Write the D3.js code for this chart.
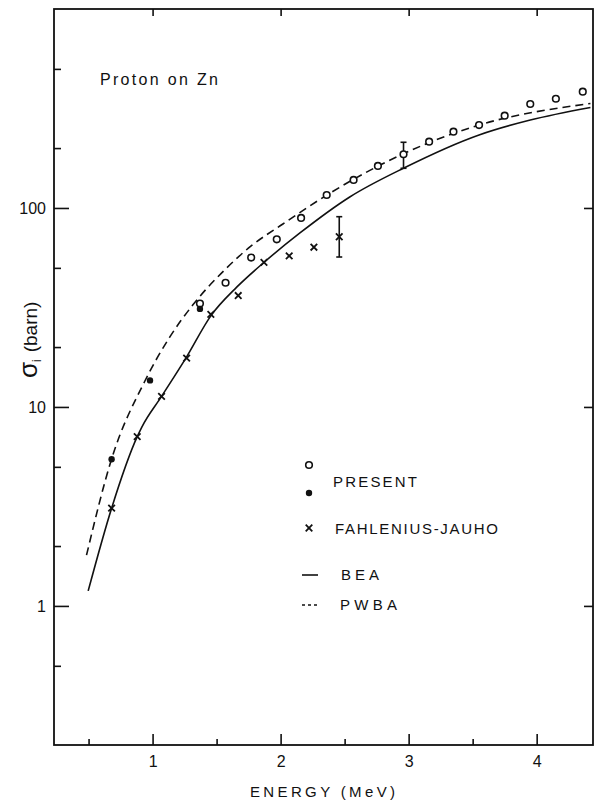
<!DOCTYPE html>
<html>
<head>
<meta charset="utf-8">
<script src="https://cdn.jsdelivr.net/npm/d3@7"></script>
<style>
  body { margin: 0; background: #fff; }
  text { font-family: "Liberation Sans", Arial, sans-serif; fill: #111; }
</style>
</head>
<body>
<div id="viz"></div>
<script>
const w = 595;
const h = 800;

// curves
const beaE = [0.497, 0.68, 0.88, 0.915, 1.07, 1.26, 1.455, 1.659, 1.869, 2.151, 2.54, 2.963, 3.55, 3.95, 4.42];
const beaSigma = [1.19, 3.10, 7.09, 7.9, 11.3, 17.6, 28.7, 40.1, 53.2, 74.9, 113.6, 158.8, 232.8, 276.7, 320];
const pwbaE = [0.484, 0.68, 0.94, 1.135, 1.315, 1.578, 1.76, 2.018, 2.362, 2.955, 3.55, 4.42];
const pwbaSigma = [1.80, 5.48, 13.5, 22.5, 32.6, 49.9, 63.7, 83.1, 116.2, 186.8, 261, 335];

// measured points
const presentE = [1.37, 1.57, 1.77, 1.97, 2.16, 2.36, 2.57, 2.76, 2.96, 3.16, 3.35, 3.55, 3.75, 3.95, 4.15, 4.36];
const presentSigma = [33.1, 42.1, 56.3, 69.6, 89.1, 116.2, 138.3, 162.6, 186.2, 215.4, 241.7, 261, 291, 333, 354, 384];
const filledE = [0.68, 0.98, 1.37];
const filledSigma = [5.46, 13.6, 31.1];
const fjE = [0.68, 0.88, 1.07, 1.266, 1.455, 1.669, 1.87, 2.067, 2.26, 2.458];
const fjSigma = [3.10, 7.09, 11.3, 17.6, 29.2, 36.3, 53.3, 57.4, 63.5, 71.7];

// error bars
const errE = [2.96, 2.458];
const errLo = [158.3, 56.7];
const errHi = [213.9, 90.4];

// ticks
const xMajor = [1, 2, 3, 4];
const xMinor = [0.5, 1.5, 2.5, 3.5];
const yMajor = [1, 10, 100];
const yMinor = [0.5, 2, 5, 20, 50, 200, 500];

const svg = d3.select('#viz').append('svg')
    .attr('width', w)
    .attr('height', h)

const mLeft = 54, mRight = 593, mTop = 9, mBottom = 745;

const x = d3.scaleLinear().domain([0.23, 4.44]).range([mLeft, mRight])
const y = d3.scaleLog().domain([0.2, 1000]).range([mBottom, mTop])

// axes
function axisG(axis, tx, ty) {
    let g = svg.append('g')
        .attr('transform', `translate(${tx},${ty})`)
        .call(axis)
    g.select('.domain').remove()
    g.selectAll('line').attr('stroke', '#111').attr('stroke-width', 1.6)
    g.selectAll('text')
        .style('font-family', '"Liberation Sans", Arial, sans-serif')
        .style('font-size', '16px')
        .attr('fill', '#111')
    return g
}

axisG(d3.axisLeft(y).tickValues(yMajor).tickSize(-15).tickPadding(8).tickFormat(d3.format('d')), mLeft, 0)
axisG(d3.axisLeft(y).tickValues(yMinor).tickSize(-7).tickFormat(''), mLeft, 0)
axisG(d3.axisRight(y).tickValues(yMajor).tickSize(-9).tickFormat(''), mRight, 0)
axisG(d3.axisBottom(x).tickValues(xMajor).tickSize(-11).tickPadding(11).tickFormat(d3.format('d')), 0, mBottom)
axisG(d3.axisBottom(x).tickValues(xMinor).tickSize(-6).tickFormat(''), 0, mBottom)
axisG(d3.axisTop(x).tickValues(xMajor).tickSize(-7).tickFormat(''), 0, mTop)

svg.append('rect')
    .attr('x', mLeft)
    .attr('y', mTop)
    .attr('width', mRight - mLeft)
    .attr('height', mBottom - mTop)
    .attr('fill', 'none')
    .attr('stroke', '#111')
    .attr('stroke-width', 1.8)

// curves
const line = d3.line()
    .x(d => x(d[0]))
    .y(d => y(d[1]))
    .curve(d3.curveMonotoneX)

svg.append('path')
    .attr('d', line(d3.zip(beaE, beaSigma)))
    .attr('fill', 'none')
    .attr('stroke', '#111')
    .attr('stroke-width', 1.6)

svg.append('path')
    .attr('d', line(d3.zip(pwbaE, pwbaSigma)))
    .attr('fill', 'none')
    .attr('stroke', '#111')
    .attr('stroke-width', 1.6)
    .attr('stroke-dasharray', '8,5')

// error bars
let errG = svg.append('g').attr('stroke', '#111').attr('stroke-width', 1.6)
errE.forEach((e, i) => {
    errG.append('line')
        .attr('x1', x(e)).attr('x2', x(e))
        .attr('y1', y(errLo[i])).attr('y2', y(errHi[i]))
    errG.append('line')
        .attr('x1', x(e) - 3).attr('x2', x(e) + 3)
        .attr('y1', y(errLo[i])).attr('y2', y(errLo[i]))
    errG.append('line')
        .attr('x1', x(e) - 3).attr('x2', x(e) + 3)
        .attr('y1', y(errHi[i])).attr('y2', y(errHi[i]))
})

// points
svg.append('g').selectAll('circle')
    .data(d3.zip(presentE, presentSigma))
    .join('circle')
    .attr('cx', d => x(d[0]))
    .attr('cy', d => y(d[1]))
    .attr('r', 3.3)
    .attr('fill', '#fff')
    .attr('stroke', '#111')
    .attr('stroke-width', 1.6)

svg.append('g').selectAll('circle')
    .data(d3.zip(filledE, filledSigma))
    .join('circle')
    .attr('cx', d => x(d[0]))
    .attr('cy', d => y(d[1]))
    .attr('r', 3.2)
    .attr('fill', '#111')

const cross = d3.symbol().type(d3.symbolX).size(30)
svg.append('g').selectAll('path')
    .data(d3.zip(fjE, fjSigma))
    .join('path')
    .attr('transform', d => `translate(${x(d[0])},${y(d[1])})`)
    .attr('d', cross)
    .attr('fill', 'none')
    .attr('stroke', '#111')
    .attr('stroke-width', 1.8)

// texts
svg.append('text')
    .attr('x', 100).attr('y', 85)
    .attr('textLength', 118).attr('lengthAdjust', 'spacing')
    .style('font-size', '16px')
    .text('Proton on Zn')

svg.append('text')
    .attr('x', 250).attr('y', 797)
    .attr('textLength', 145).attr('lengthAdjust', 'spacing')
    .style('font-size', '15px')
    .text('ENERGY (MeV)')

let yLab = svg.append('text')
    .attr('transform', 'translate(37,378) rotate(-90)')
yLab.append('tspan').style('font-size', '26px').text('σ')
yLab.append('tspan').attr('dy', 4).style('font-size', '12px').text('i')
yLab.append('tspan').attr('dy', -4).attr('dx', 7).style('font-size', '19px').text('(barn)')

// legend
let lg = svg.append('g')
lg.append('circle').attr('cx', 309).attr('cy', 465).attr('r', 3.3)
    .attr('fill', '#fff').attr('stroke', '#111').attr('stroke-width', 1.6)
lg.append('circle').attr('cx', 309).attr('cy', 493).attr('r', 3.2).attr('fill', '#111')
lg.append('path').attr('transform', 'translate(309,528)').attr('d', cross)
    .attr('fill', 'none').attr('stroke', '#111').attr('stroke-width', 1.8)
lg.append('line').attr('x1', 302).attr('x2', 318).attr('y1', 575).attr('y2', 575)
    .attr('stroke', '#111').attr('stroke-width', 1.6)
lg.append('line').attr('x1', 302).attr('x2', 318).attr('y1', 605).attr('y2', 605)
    .attr('stroke', '#111').attr('stroke-width', 1.6).attr('stroke-dasharray', '3,3')

const legText = [['PRESENT', 333, 487, 84], ['FAHLENIUS-JAUHO', 335, 534, 163], ['BEA', 341, 580, 38], ['PWBA', 340, 610, 57]]
legText.forEach(t => {
    lg.append('text')
        .attr('x', t[1]).attr('y', t[2])
        .attr('textLength', t[3]).attr('lengthAdjust', 'spacing')
        .style('font-size', '15px')
        .text(t[0])
})
</script>
</body>
</html>
